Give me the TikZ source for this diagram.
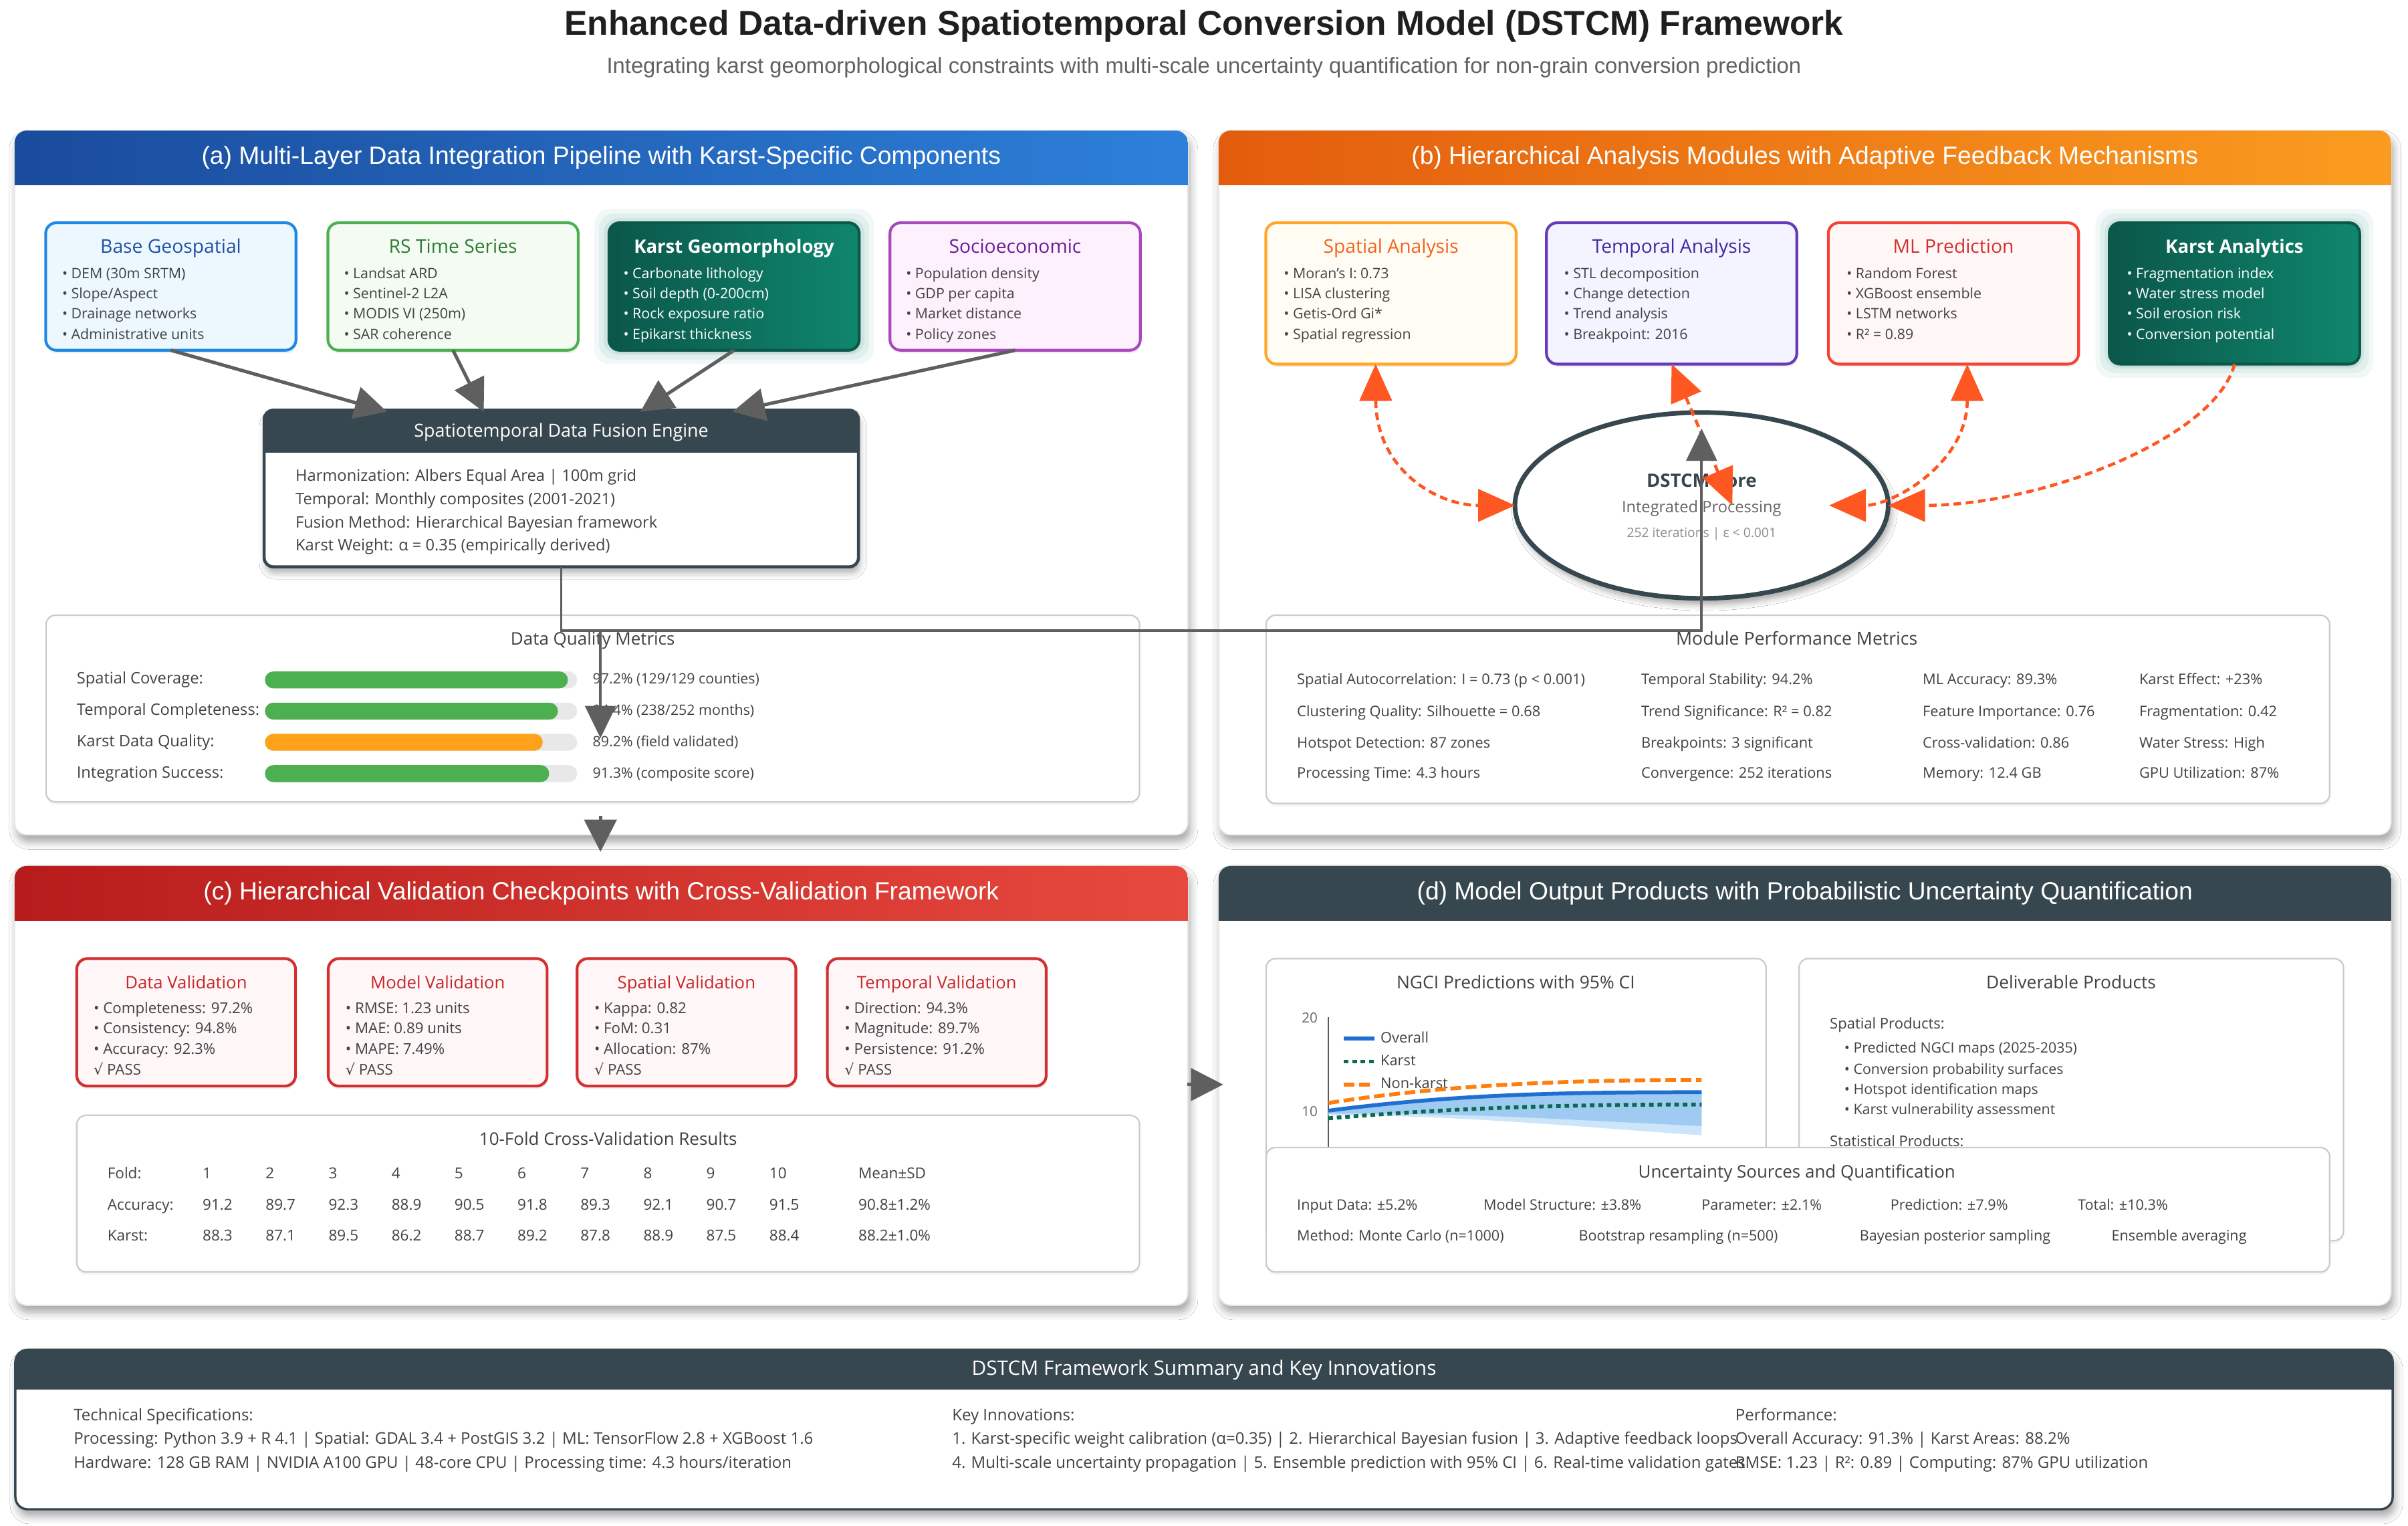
\documentclass[tikz,border=0pt]{standalone}
\usepackage{fontspec}
\setmainfont{Open Sans}
\newfontfamily\arialf{Liberation Sans}
\newfontfamily\djv{DejaVu Sans}
\usetikzlibrary{arrows.meta,shadows,shadows.blur,shapes.geometric,calc}
\newcommand\fsz[1]{\fontsize{#1}{#1}\selectfont}
\definecolor{slate}{HTML}{37474F}
\definecolor{txt}{HTML}{424242}
\definecolor{ablueA}{HTML}{1A4B9C}
\definecolor{ablueB}{HTML}{2D80DA}
\definecolor{borgA}{HTML}{E35C0D}
\definecolor{borgB}{HTML}{FA9C1F}
\definecolor{credA}{HTML}{B71C1C}
\definecolor{credB}{HTML}{E8493E}
\definecolor{tealA}{HTML}{0B574A}
\definecolor{tealB}{HTML}{0F866D}
\definecolor{arrg}{HTML}{5F5F5F}
\definecolor{fbc}{HTML}{FF5722}
\definecolor{bgeoD}{HTML}{1E88E5}
\definecolor{bgeoF}{HTML}{ECF8FE}
\definecolor{bgeoT}{HTML}{1E4FA8}
\definecolor{rsD}{HTML}{4CAF50}
\definecolor{rsF}{HTML}{F3FBF3}
\definecolor{rsT}{HTML}{2E7D32}
\definecolor{soD}{HTML}{AB47BC}
\definecolor{soF}{HTML}{FDF1FD}
\definecolor{soT}{HTML}{6A1B9A}
\definecolor{spD}{HTML}{FFA726}
\definecolor{spF}{HTML}{FFFDF3}
\definecolor{spT}{HTML}{F4621E}
\definecolor{tpD}{HTML}{673AB7}
\definecolor{tpF}{HTML}{F3F4FF}
\definecolor{tpT}{HTML}{4527A0}
\definecolor{mlD}{HTML}{F44336}
\definecolor{mlF}{HTML}{FFF6F6}
\definecolor{mlT}{HTML}{D32F2F}
\definecolor{cvD}{HTML}{D32F2F}
\definecolor{cvF}{HTML}{FFF6F8}
\definecolor{cvT}{HTML}{C62828}
\definecolor{barG}{HTML}{4CAF50}
\definecolor{barO}{HTML}{FFA21A}
\definecolor{barT}{HTML}{E8E8E8}
\definecolor{ovl}{HTML}{1F6FD1}
\definecolor{nkl}{HTML}{FF7F0E}
\definecolor{kal}{HTML}{0B6B50}
\definecolor{bandA}{HTML}{CDE5FA}
\definecolor{bandB}{HTML}{9FCBF3}
\tikzset{
  every node/.style={inner sep=0pt, outer sep=0pt},
  lbl/.style={anchor=mid west, text=txt},
  ctr/.style={anchor=mid, text=txt},
  panelbg/.style={fill=white, draw=black!10, line width=0.8pt, rounded corners=8pt,
     blur shadow={shadow xshift=1.5pt, shadow yshift=-4.5pt, shadow blur radius=5pt, shadow opacity=35}},
  card/.style={rectangle, rounded corners=7pt, line width=1.8pt, minimum width=163pt, minimum height=83pt,
     drop shadow={opacity=0.12, shadow xshift=0.6pt, shadow yshift=-2pt}},
  tealcard/.style={card, draw=tealA, left color=tealA, right color=tealB},
  mbox/.style={rectangle, rounded corners=6pt, draw=black!20, line width=1pt, fill=white,
     drop shadow={opacity=0.08, shadow xshift=0pt, shadow yshift=-2pt}},
  garrow/.style={draw=arrg, line width=2.2pt, -{Triangle[length=21pt,width=21pt]}},
  gconn/.style={draw=arrg, line width=1.6pt, -{Triangle[length=21pt,width=20pt]}},
  fbboth/.style={draw=fbc, line width=2pt, dash pattern=on 5pt off 3pt, {Triangle[length=24pt,width=21pt]}-{Triangle[length=24pt,width=21pt]}},
  fbone/.style={draw=fbc, line width=2pt, dash pattern=on 5pt off 3pt, -{Triangle[length=24pt,width=21pt]}},
  ctitle/.style={ctr, font=\fsz{12.3}},
  citem/.style={lbl, font=\fsz{\isz}},
  mtitle/.style={ctr, font=\fsz{11.3}},
  mtext/.style={lbl, font=\fsz{9.5}},
}
\def\isz{9.3}
\def\icol{txt}
\def\cy{0}
\newcommand\panel[9]{%
  \path[panelbg] (#2,#3) rectangle (#4,#5);
  \begin{scope}
    \clip[rounded corners=8pt] (#2,#3) rectangle (#4,#5);
    \shade[left color=#7, right color=#8] (#2,#3) rectangle (#4,#6);
  \end{scope}
  \node[text=white, font=\arialf\fsz{16.2}] (#1) at ({(#2+#4)/2},{(#3+#6)/2}) {#9};
}
\newcommand\cardtxt[9]{%
  \node[ctitle, #4] (#1t) at (#2,{\cy+162.3}) {#5};
  \node[citem, text=\icol] (#1a) at (#3,{\cy+178.5}) {#6};
  \node[citem, text=\icol] (#1b) at (#3,{\cy+191.6}) {#7};
  \node[citem, text=\icol] (#1c) at (#3,{\cy+204.8}) {#8};
  \node[citem, text=\icol] (#1d) at (#3,{\cy+218.2}) {#9};
}
\begin{document}
\begin{tikzpicture}[x=1pt,y=-1pt]
\useasboundingbox (0,0) rectangle (1568,993);
\fill[white] (0,0) rectangle (1568,993);

% ---------- titles
\node[font=\arialf\bfseries\fsz{22.4}, text=black!88] (title) at (784,17) {Enhanced Data-driven Spatiotemporal Conversion Model (DSTCM) Framework};
\node[font=\arialf\fsz{14.25}, text=black!62] (subtitle) at (784,44) {Integrating karst geomorphological constraints with multi-scale uncertainty quantification for non-grain conversion prediction};

% ---------- panels
\panel{pa}{9.5}{85}{773.5}{543.5}{120.5}{ablueA}{ablueB}{(a) Multi-Layer Data Integration Pipeline with Karst-Specific Components}
\panel{pb}{793.5}{85}{1557}{543.5}{120.5}{borgA}{borgB}{(b) Hierarchical Analysis Modules with Adaptive Feedback Mechanisms}
\panel{pc}{9.5}{563.7}{773.5}{849.7}{599.4}{credA}{credB}{(c) Hierarchical Validation Checkpoints with Cross-Validation Framework}
\panel{pd}{793.5}{563.7}{1557}{849.7}{599.4}{slate}{slate}{(d) Model Output Products with Probabilistic Uncertainty Quantification}

% ---------- panel (a) cards
\node[card, draw=bgeoD, fill=bgeoF] (base) at (111.25,186.5) {};
\node[card, draw=rsD, fill=rsF] (rs) at (295,186.5) {};
\foreach \d/\o in {9/0.05,6/0.07,3/0.09}
  \fill[tealB, opacity=\o, rounded corners=10pt] ({396-\d},{145-\d}) rectangle ({560+\d},{228+\d});
\node[tealcard] (karst) at (478,186.5) {};
\node[card, draw=soD, fill=soF] (socio) at (661,186.5) {};
\cardtxt{bg}{111.25}{40.5}{text=bgeoT}{Base Geospatial}{• DEM (30m SRTM)}{• Slope/Aspect}{• Drainage networks}{• Administrative units}
\cardtxt{rt}{295}{224}{text=rsT}{RS Time Series}{• Landsat ARD}{• Sentinel-2 L2A}{• MODIS VI (250m)}{• SAR coherence}
\def\icol{white}
\cardtxt{kg}{478}{406}{text=white, font=\bfseries\fsz{12}}{Karst Geomorphology}{• Carbonate lithology}{• Soil depth (0-200cm)}{• Rock exposure ratio}{• Epikarst thickness}
\def\icol{txt}
\cardtxt{se}{661}{590}{text=soT}{Socioeconomic}{• Population density}{• GDP per capita}{• Market distance}{• Policy zones}

% ---------- fusion engine
\node[rectangle, rounded corners=6pt, fill=white, minimum width=387pt, minimum height=102pt,
  blur shadow={shadow xshift=1pt, shadow yshift=-4pt, shadow blur radius=4pt, shadow opacity=30}] (fusion) at (365.5,318) {};
\begin{scope}
  \clip[rounded corners=6pt] (172,267) rectangle (559,369);
  \fill[slate] (172,267) rectangle (559,294.5);
\end{scope}
\draw[slate, line width=2pt, rounded corners=6pt] (172,267) rectangle (559,369);
\node[font=\fsz{11.7}, text=white] (fusionT) at (365.5,281.5) {Spatiotemporal Data Fusion Engine};
\node[lbl, font=\fsz{10.3}] (fu1) at (192.5,310.5) {Harmonization: Albers Equal Area | 100m grid};
\node[lbl, font=\fsz{10.3}] (fu2) at (192.5,325.6) {Temporal: Monthly composites (2001-2021)};
\node[lbl, font=\fsz{10.3}] (fu3) at (192.5,340.8) {Fusion Method: Hierarchical Bayesian framework};
\node[lbl, font=\fsz{10.3}] (fu4) at (192.5,356) {Karst Weight: α = 0.35 (empirically derived)};

% arrows into the fusion engine
\coordinate (f1) at (252,268);
\coordinate (f2) at (315,268);
\coordinate (f3) at (417,268);
\coordinate (f4) at (477,268);
\draw[garrow] (base.south) -- (f1);
\draw[garrow] (rs.south) -- (f2);
\draw[garrow] (karst.south) -- (f3);
\draw[garrow] (socio.south) -- (f4);

% ---------- data quality metrics
\node[mbox, minimum width=712pt, minimum height=121.5pt] (dq) at (386,461.25) {};
\node[mtitle] (dqT) at (386,417) {Data Quality Metrics};
\foreach \n/\y/\e/\c/\l/\v in {1/442.6/369.8/barG/{Spatial Coverage:}/{97.2\% (129/129 counties)},
  2/462.9/363.3/barG/{Temporal Completeness:}/{94.4\% (238/252 months)},
  3/483.2/353.4/barO/{Karst Data Quality:}/{89.2\% (field validated)},
  4/503.6/357.6/barG/{Integration Success:}/{91.3\% (composite score)}}{
  \node[lbl, font=\fsz{10.3}] (dql\n) at (50,\y) {\l};
  \fill[barT, rounded corners=5.5pt] (172.5,\y-5.5) rectangle (375.8,\y+5.5);
  \fill[\c, rounded corners=5.5pt] (172.5,\y-5.5) rectangle (\e,\y+5.5);
  \node[lbl, font=\fsz{9.3}] (dqv\n) at (386,\y) {\v};
}

% ---------- panel (b) cards
\node[card, minimum height=92pt, draw=spD, fill=spF] (spatial) at (905.75,191) {};
\node[card, minimum height=92pt, draw=tpD, fill=tpF] (temporal) at (1088.5,191) {};
\node[card, minimum height=92pt, draw=mlD, fill=mlF] (ml) at (1272,191) {};
\foreach \d/\o in {9/0.05,6/0.07,3/0.09}
  \fill[tealB, opacity=\o, rounded corners=10pt] ({1373.5-\d},{145-\d}) rectangle ({1536.5+\d},{237+\d});
\node[tealcard, minimum height=92pt] (karsta) at (1455,191) {};
\cardtxt{sa}{905.75}{836}{text=spT}{Spatial Analysis}{• Moran's I: 0.73}{• LISA clustering}{• Getis-Ord Gi*}{• Spatial regression}
\cardtxt{ta}{1088.5}{1018.5}{text=tpT}{Temporal Analysis}{• STL decomposition}{• Change detection}{• Trend analysis}{• Breakpoint: 2016}
\cardtxt{mp}{1272}{1202.5}{text=mlT}{ML Prediction}{• Random Forest}{• XGBoost ensemble}{• LSTM networks}{• R² = 0.89}
\def\icol{white}
\cardtxt{ka}{1455}{1385}{text=white, font=\bfseries\fsz{12}}{Karst Analytics}{• Fragmentation index}{• Water stress model}{• Soil erosion risk}{• Conversion potential}
\def\icol{txt}

% ---------- DSTCM core
\node[ellipse, draw=slate, line width=3pt, fill=white, minimum width=243pt, minimum height=121pt,
  blur shadow={shadow xshift=2pt, shadow yshift=-4pt, shadow blur radius=4pt, shadow opacity=35}] (core) at (1108,329) {};
\node[ctr, font=\bfseries\fsz{12}, text=slate] (coreT) at (1108,314.5) {DSTCM Core};
\node[ctr, font=\fsz{10.3}, text=black!60] (coreS) at (1108,331) {Integrated Processing};
\node[ctr, font=\fsz{8.4}, text=black!45] (coreI) at (1108,347) {252 iterations | ε < 0.001};

% ---------- module performance metrics
\node[mbox, minimum width=692.5pt, minimum height=122.5pt] (mpm) at (1170.75,461.75) {};
\node[mtitle, font=\fsz{11.6}] (mpmT) at (1170,417) {Module Performance Metrics};
\foreach \n/\x/\a/\b/\c/\d in {
  1/844.6/{Spatial Autocorrelation: I = 0.73 (p < 0.001)}/{Clustering Quality: Silhouette = 0.68}/{Hotspot Detection: 87 zones}/{Processing Time: 4.3 hours},
  2/1068.7/{Temporal Stability: 94.2\%}/{Trend Significance: R² = 0.82}/{Breakpoints: 3 significant}/{Convergence: 252 iterations},
  3/1252/{ML Accuracy: 89.3\%}/{Feature Importance: 0.76}/{Cross-validation: 0.86}/{Memory: 12.4 GB},
  4/1393/{Karst Effect: +23\%}/{Fragmentation: 0.42}/{Water Stress: High}/{GPU Utilization: 87\%}}{
  \node[mtext] (mpa\n) at (\x,443) {\a};
  \node[mtext] (mpb\n) at (\x,463.6) {\b};
  \node[mtext] (mpc\n) at (\x,484) {\c};
  \node[mtext] (mpd\n) at (\x,504) {\d};
}

% ---------- feedback arrows (b)
\coordinate (sp1) at ($(spatial.south)+(-10,0)$);
\coordinate (tp2) at (1128,329);
\coordinate (ml1) at ($(ml.south)+(9,0)$);
\coordinate (ml2) at (1191,329);
\draw[fbboth] (sp1) .. controls (896,305) and (935,329) .. (core.west);
\draw[fbboth] (temporal.south) -- (tp2);
\draw[fbboth] (ml1) .. controls (1281,302) and (1232,329) .. (ml2);
\draw[fbone] (karsta.south) .. controls (1443,285) and (1330,329) .. (core.east);

% ---------- panel (c)
\def\cy{478.7}
\def\isz{9.7}
\foreach \nm/\x in {dv/121.2, mv/285, sv/447, tv/610}
  \node[card, minimum width=142.5pt, draw=cvD, fill=cvF] (\nm) at (\x,665.5) {};
\cardtxt{dvx}{121.2}{61}{text=cvT, font=\fsz{11.2}}{Data Validation}{• Completeness: 97.2\%}{• Consistency: 94.8\%}{• Accuracy: 92.3\%}{{\djv √} PASS}
\cardtxt{mvx}{285}{225}{text=cvT, font=\fsz{11.2}}{Model Validation}{• RMSE: 1.23 units}{• MAE: 0.89 units}{• MAPE: 7.49\%}{{\djv √} PASS}
\cardtxt{svx}{447}{387}{text=cvT, font=\fsz{11.2}}{Spatial Validation}{• Kappa: 0.82}{• FoM: 0.31}{• Allocation: 87\%}{{\djv √} PASS}
\cardtxt{tvx}{610}{550}{text=cvT, font=\fsz{11.2}}{Temporal Validation}{• Direction: 94.3\%}{• Magnitude: 89.7\%}{• Persistence: 91.2\%}{{\djv √} PASS}

\node[mbox, minimum width=692pt, minimum height=102pt] (cv) at (396,777) {};
\node[mtitle] (cvT) at (396,743) {10-Fold Cross-Validation Results};
\node[lbl, font=\fsz{9.8}] (cvl1) at (70,764.7) {Fold:};
\node[lbl, font=\fsz{9.8}] (cvl2) at (70,785) {Accuracy:};
\node[lbl, font=\fsz{9.8}] (cvl3) at (70,805) {Karst:};
\foreach \i/\a/\k in {1/91.2/88.3, 2/89.7/87.1, 3/92.3/89.5, 4/88.9/86.2, 5/90.5/88.7, 6/91.8/89.2, 7/89.3/87.8, 8/92.1/88.9, 9/90.7/87.5, 10/91.5/88.4}{
  \node[lbl, font=\fsz{9.8}] (cvf\i) at ({132+41*(\i-1)},764.7) {\i};
  \node[lbl, font=\fsz{9.8}] (cva\i) at ({132+41*(\i-1)},785) {\a};
  \node[lbl, font=\fsz{9.8}] (cvk\i) at ({132+41*(\i-1)},805) {\k};
}
\node[lbl, font=\fsz{9.8}] (cvm1) at (559,764.7) {Mean±SD};
\node[lbl, font=\fsz{9.8}] (cvm2) at (559,785) {90.8±1.2\%};
\node[lbl, font=\fsz{9.8}] (cvm3) at (559,805) {88.2±1.0\%};

% ---------- panel (d)
\node[mbox, minimum width=325.5pt, minimum height=184pt] (ngci) at (987.25,716) {};
\node[mbox, minimum width=354.5pt, minimum height=183.6pt] (deliv) at (1348.75,715.8) {};
\node[mtitle, font=\fsz{11.5}] (ngciT) at (987,641) {NGCI Predictions with 95\% CI};
\draw[black!65, line width=0.8pt] (865,662) -- (865,800);
\node[anchor=mid east, font=\fsz{9}, text=black!60] (tk20) at (858,663) {20};
\node[anchor=mid east, font=\fsz{9}, text=black!60] (tk10) at (858,724) {10};
\fill[bandA] (865,723) .. controls (950,712) and (1020,711) .. (1108,711) -- (1108,739) .. controls (1020,733) and (950,726) .. (865,726) -- cycle;
\fill[bandB] (865,723) .. controls (950,712) and (1020,711) .. (1108,711) -- (1108,733) .. controls (1020,729) and (950,724) .. (865,725) -- cycle;
\draw[ovl, line width=2.5pt] (865,723) .. controls (950,712) and (1020,711) .. (1108,711);
\draw[kal, line width=2.5pt, dash pattern=on 3pt off 2.5pt] (865,728) .. controls (950,721) and (1020,719) .. (1108,719);
\draw[ovl, line width=2.5pt] (875,676) -- (895,676);
\draw[kal, line width=2.5pt, dash pattern=on 3pt off 2.5pt] (875,691) -- (895,691);
\draw[nkl, line width=2.5pt, dash pattern=on 7pt off 3pt] (875,706) -- (895,706);
\node[lbl, font=\fsz{9.5}] (lgo) at (899,676) {Overall};
\node[lbl, font=\fsz{9.5}] (lgk) at (899,691) {Karst};
\node[lbl, font=\fsz{9.5}] (lgn) at (899,706) {Non-karst};
\draw[nkl, line width=2.5pt, dash pattern=on 7pt off 3pt] (865,718) .. controls (930,708) and (1000,703) .. (1108,703);

\node[mtitle, font=\fsz{11.5}] (delT) at (1348.6,641) {Deliverable Products};
\node[lbl, font=\fsz{9.6}] (del0) at (1191.5,667) {Spatial Products:};
\node[lbl, font=\fsz{9.3}] (del1) at (1201,682.6) {• Predicted NGCI maps (2025-2035)};
\node[lbl, font=\fsz{9.3}] (del2) at (1201,696.5) {• Conversion probability surfaces};
\node[lbl, font=\fsz{9.3}] (del3) at (1201,709.5) {• Hotspot identification maps};
\node[lbl, font=\fsz{9.3}] (del4) at (1201,722.6) {• Karst vulnerability assessment};
\node[lbl, font=\fsz{9.6}] (del5) at (1191.5,743.6) {Statistical Products:};

\node[mbox, minimum width=692.5pt, minimum height=81pt] (unc) at (1170.75,787.5) {};
\node[mtitle] (uncT) at (1170,764) {Uncertainty Sources and Quantification};
\node[mtext, font=\fsz{9.4}] (u1) at (844.6,785) {Input Data: ±5.2\%};
\node[mtext, font=\fsz{9.4}] (u2) at (966,785) {Model Structure: ±3.8\%};
\node[mtext, font=\fsz{9.4}] (u3) at (1108,785) {Parameter: ±2.1\%};
\node[mtext, font=\fsz{9.4}] (u4) at (1231,785) {Prediction: ±7.9\%};
\node[mtext, font=\fsz{9.4}] (u5) at (1353,785) {Total: ±10.3\%};
\node[mtext, font=\fsz{9.4}] (u6) at (844.6,805) {Method: Monte Carlo (n=1000)};
\node[mtext, font=\fsz{9.4}] (u7) at (1028,805) {Bootstrap resampling (n=500)};
\node[mtext, font=\fsz{9.4}] (u8) at (1211,805) {Bayesian posterior sampling};
\node[mtext, font=\fsz{9.4}] (u9) at (1375,805) {Ensemble averaging};

% ---------- summary
\path[panelbg, draw=slate, line width=1.5pt] (10,878.6) rectangle (1558,982.5);
\begin{scope}
  \clip[rounded corners=8pt] (10,878.6) rectangle (1558,982.5);
  \fill[slate] (10,878.6) rectangle (1558,904.6);
\end{scope}
\node[font=\fsz{13}, text=white] (sumT) at (784,892) {DSTCM Framework Summary and Key Innovations};
\node[lbl, font=\fsz{10.45}] (s11) at (48,922) {Technical Specifications:};
\node[lbl, font=\fsz{10.45}] (s12) at (48,937.5) {Processing: Python 3.9 + R 4.1 | Spatial: GDAL 3.4 + PostGIS 3.2 | ML: TensorFlow 2.8 + XGBoost 1.6};
\node[lbl, font=\fsz{10.45}] (s13) at (48,953) {Hardware: 128 GB RAM | NVIDIA A100 GPU | 48-core CPU | Processing time: 4.3 hours/iteration};
\node[lbl, font=\fsz{10.45}] (s21) at (620,922) {Key Innovations:};
\node[lbl, font=\fsz{10.45}] (s22) at (620,937.5) {1. Karst-specific weight calibration (α=0.35) | 2. Hierarchical Bayesian fusion | 3. Adaptive feedback loops};
\node[lbl, font=\fsz{10.45}] (s23) at (620,953) {4. Multi-scale uncertainty propagation | 5. Ensemble prediction with 95\% CI | 6. Real-time validation gates};
\node[lbl, font=\fsz{10.45}] (s31) at (1130,922) {Performance:};
\node[lbl, font=\fsz{10.45}] (s32) at (1130,937.5) {Overall Accuracy: 91.3\% | Karst Areas: 88.2\%};
\node[lbl, font=\fsz{10.45}] (s33) at (1130,953) {RMSE: 1.23 | R²: 0.89 | Computing: 87\% GPU utilization};

% ---------- global connectors
\coordinate (elb) at (1108,410.5);
\coordinate (coretip) at (1108,279);
\draw[gconn] (fusion.south) |- (elb) -- (coretip);
\coordinate (dqs) at (391,410.5);
\coordinate (dqe) at (391,480.5);
\draw[gconn] (dqs) -- (dqe);
\coordinate (a2c1) at (391,531);
\coordinate (a2c2) at (391,554.5);
\draw[garrow] (a2c1) -- (a2c2);
\coordinate (c2d1) at (773,706);
\coordinate (c2d2) at (796.5,706);
\draw[garrow] (c2d1) -- (c2d2);
\end{tikzpicture}
\end{document}
